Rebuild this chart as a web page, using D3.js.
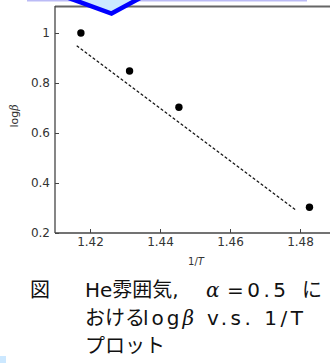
<!DOCTYPE html>
<html>
<head>
<meta charset="utf-8">
<script src="https://cdn.jsdelivr.net/npm/d3@7"></script>
<style>
  html, body { margin: 0; padding: 0; background: #fff; overflow: hidden; }
  svg { display: block; }
</style>
</head>
<body>
<svg id="chart" width="330" height="363"></svg>
<script>
// measured points (1/T, log beta)
const invT = [1.4174, 1.4313, 1.4454, 1.4827];
const logBeta = [1.0, 0.848, 0.703, 0.303];
// regression line end points
const fitX = [1.4162, 1.4789];
const fitY = [0.949, 0.291];

const xTicks = [1.42, 1.44, 1.46, 1.48];
const yTicks = [0.2, 0.4, 0.6, 0.8, 1];

// caption pieces, justified on the slide so each piece gets its own x
const captionLines = [
  [{ t: 'He雰囲気,', x: 85 }, { t: 'α', x: 206, it: true }, { t: '=0.5', x: 227, ls: 3.5 }, { t: 'に', x: 302 }],
  [{ t: 'おける', x: 85 }, { t: 'log', x: 143, ls: 3 }, { t: 'β', ls: 3, it: true }, { t: ' v.s. 1/T', ls: 3.5 }],
  [{ t: 'プロット', x: 85 }]
];

const svg = d3.select('#chart');

const x = d3.scaleLinear().domain([1.41, 1.48857]).range([55, 330]);
const y = d3.scaleLinear().domain([0.2, 1.104]).range([233, 7]);

// slide decorations behind the chart
svg.append('rect')
  .attr('x', 27).attr('y', 0).attr('width', 280).attr('height', 1.5)
  .attr('fill', '#bbbbf6');

svg.append('rect')
  .attr('x', 0).attr('y', 356).attr('width', 6).attr('height', 7)
  .attr('fill', '#cce8ff');

// frame top
svg.append('line')
  .attr('x1', 55).attr('x2', 330).attr('y1', 6.5).attr('y2', 6.5)
  .attr('stroke', '#666').attr('stroke-width', 2);

// chevron over the plot
svg.append('path')
  .attr('d', 'M 66,-3 L 111.5,13.5 L 142,-3')
  .attr('fill', '#cce8ff')
  .attr('stroke', '#0000ff')
  .attr('stroke-width', 4.5)
  .attr('stroke-linejoin', 'miter');

// axes
const xAxis = svg.append('g')
  .attr('transform', 'translate(0,233)')
  .call(d3.axisBottom(x).tickValues(xTicks).tickSize(-4).tickPadding(4)
    .tickFormat(d3.format('.2f')));

const yAxis = svg.append('g')
  .attr('transform', 'translate(55,0)')
  .call(d3.axisLeft(y).tickValues(yTicks).tickSize(-4).tickPadding(5)
    .tickFormat(d3.format('~g')));

[xAxis, yAxis].forEach(g => {
  g.select('.domain').attr('stroke', '#444').attr('stroke-width', 1.3);
  g.selectAll('.tick line').attr('stroke', '#444');
  g.selectAll('.tick text')
    .attr('fill', '#333')
    .style('font-family', 'DejaVu Sans, Verdana, sans-serif')
    .style('font-size', '12px');
});
yAxis.select('.domain').attr('d', 'M0,233V6');
xAxis.select('.domain').attr('d', 'M0,0H275').attr('transform', 'translate(55,0)');

// axis titles
const yTitle = svg.append('text')
  .attr('transform', 'translate(18,116) rotate(-90)')
  .attr('text-anchor', 'middle')
  .style('font-family', 'DejaVu Sans, Verdana, sans-serif')
  .style('font-size', '11px')
  .attr('fill', '#333');
yTitle.append('tspan').text('log');
yTitle.append('tspan').style('font-style', 'italic').style('font-family', 'DejaVu Serif, serif').text('β');

const xTitle = svg.append('text')
  .attr('x', 196).attr('y', 265)
  .attr('text-anchor', 'middle')
  .style('font-family', 'DejaVu Sans, Verdana, sans-serif')
  .style('font-size', '10px')
  .attr('fill', '#333');
xTitle.append('tspan').text('1/');
xTitle.append('tspan').style('font-style', 'italic').text('T');

// fit line
svg.append('line')
  .attr('x1', x(fitX[0])).attr('y1', y(fitY[0]))
  .attr('x2', x(fitX[1])).attr('y2', y(fitY[1]))
  .attr('stroke', '#111')
  .attr('stroke-width', 1.2)
  .attr('stroke-dasharray', '3,2');

// points
svg.append('g')
  .selectAll('circle')
  .data(invT.map((v, i) => ({ x: v, y: logBeta[i] })))
  .enter()
  .append('circle')
  .attr('cx', d => x(d.x))
  .attr('cy', d => y(d.y))
  .attr('r', 3.7)
  .attr('fill', '#000');

// caption
const capFont = 'DejaVu Sans, Noto Sans CJK JP, sans-serif';
svg.append('text')
  .attr('x', 30).attr('y', 297)
  .style('font-family', 'Noto Sans CJK JP, sans-serif')
  .style('font-size', '20px')
  .attr('fill', '#111')
  .text('図');

captionLines.forEach((line, i) => {
  const t = svg.append('text')
    .attr('y', 297 + i * 28)
    .style('font-family', capFont)
    .style('font-size', '20px')
    .style('white-space', 'pre')
    .attr('fill', '#111');
  line.forEach(part => {
    const s = t.append('tspan').text(part.t);
    if (part.x != null) s.attr('x', part.x);
    if (part.ls) s.style('letter-spacing', part.ls + 'px');
    if (part.it) s.style('font-style', 'italic').style('font-family', 'DejaVu Serif, serif');
  });
});
</script>
</body>
</html>
